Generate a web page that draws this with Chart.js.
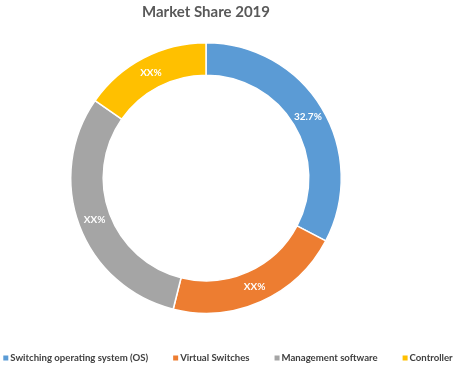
<!DOCTYPE html>
<html>
<head>
<meta charset="utf-8">
<script src="https://cdn.jsdelivr.net/npm/chart.js@4/dist/chart.umd.min.js"></script>
<style>
  html, body { margin: 0; padding: 0; background: #fff; }
  #wrap { position: relative; width: 456px; height: 367px; }
</style>
</head>
<body>
<div id="wrap"><canvas id="share-chart"></canvas></div>
<script>
const categories = ['Switching operating system (OS)', 'Virtual Switches', 'Management software', 'Controller'];
const shareValues = [32.7, 21.2, 30.8, 15.3];
const sliceLabels = ['32.7%', 'XX%', 'XX%', 'XX%'];
const sliceColors = ['#5B9BD5', '#ED7D31', '#A5A5A5', '#FFC000'];

const FONT = 'Lato, "Open Sans", sans-serif';

// white percentage text in the middle of each ring segment
const sliceLabelPlugin = {
    id: 'sliceLabels',
    afterDatasetsDraw(chart) {
        const ctx = chart.ctx;
        const meta = chart.getDatasetMeta(0);
        ctx.save();
        ctx.font = 'bold 10px ' + FONT;
        ctx.fillStyle = '#ffffff';
        ctx.textAlign = 'center';
        ctx.textBaseline = 'middle';
        meta.data.forEach((arc, i) => {
            const pos = arc.tooltipPosition();
            ctx.fillText(sliceLabels[i], pos.x, pos.y);
        });
        ctx.restore();
    }
};

// legend across the full canvas width (the plot itself sits left of centre)
const bottomLegendPlugin = {
    id: 'bottomLegend',
    afterDraw(chart) {
        const ctx = chart.ctx;
        const box = 5, gap = 2, spacing = 25;
        const y = 358;
        ctx.save();
        ctx.font = 'bold 9.6px ' + FONT;
        ctx.textBaseline = 'middle';
        const widths = categories.map(c => ctx.measureText(c).width);
        const total = widths.reduce((s, w) => s + box + gap + w, 0) + spacing * (categories.length - 1);
        let x = (chart.width - total) / 2;
        categories.forEach((c, i) => {
            ctx.fillStyle = sliceColors[i];
            ctx.fillRect(x, y - box / 2, box, box);
            x += box + gap;
            ctx.fillStyle = '#404040';
            ctx.fillText(c, x, y);
            x += widths[i] + spacing;
        });
        ctx.restore();
    }
};

new Chart(document.getElementById('share-chart'), {
    type: 'doughnut',
    data: {
        labels: categories,
        datasets: [{
            data: shareValues,
            backgroundColor: sliceColors,
            borderColor: '#ffffff',
            borderWidth: 1.5
        }]
    },
    options: {
        responsive: true,
        maintainAspectRatio: false,
        animation: false,
        cutout: '76%',
        layout: {
            padding: { left: 0, right: 44, top: 0, bottom: 53 }
        },
        plugins: {
            legend: { display: false },
            tooltip: { enabled: false },
            title: {
                display: true,
                text: 'Market Share 2019',
                color: '#595959',
                font: { family: FONT, size: 15, weight: 'bold' },
                padding: { top: 3, bottom: 21 }
            }
        }
    },
    plugins: [sliceLabelPlugin, bottomLegendPlugin]
});
</script>
</body>
</html>
